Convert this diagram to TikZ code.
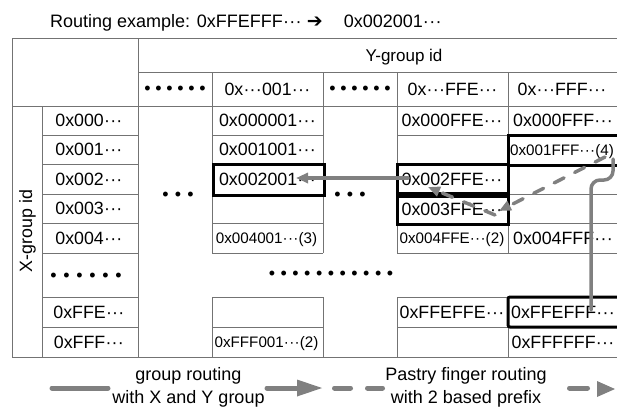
\documentclass[tikz,border=0pt]{standalone}
\usepackage{fontspec}
\setmainfont{Liberation Sans}
\newfontfamily\dvfont{DejaVu Sans}
\usetikzlibrary{arrows.meta}
\newcommand\dd{\makebox[1.05em]{\makebox[0.35em]{·}\makebox[0.35em]{·}\makebox[0.35em]{·}}}
\newcommand\bu[1]{\makebox[#1]{•}}
\definecolor{routegray}{RGB}{128,128,128}
\tikzset{
  grid/.style={draw=black!55, line width=0.9pt},
  big/.style={font=\fontsize{17.8}{20}\selectfont, inner sep=0pt, text height=12.7pt, text depth=0pt},
  small/.style={font=\fontsize{15.2}{17}\selectfont, inner sep=0pt, text height=10.9pt, text depth=0pt},
  bul/.style={font=\fontsize{18}{20}\selectfont, inner sep=0pt, anchor=base},
  leg/.style={font=\fontsize{18}{23}\selectfont, inner sep=0pt, align=center, anchor=base},
  hl/.style={draw=black, line width=3pt},
  route/.style={draw=routegray, line width=3.5pt, line cap=round, line join=round},
  pastry/.style={route, dash pattern=on 11pt off 12pt},
  tip/.style={-{Triangle[length=12pt,width=10pt]}},
  legline/.style={draw=routegray, line width=5pt, line cap=round},
}
\begin{document}
\begin{tikzpicture}[x=1pt,y=-1pt]
\useasboundingbox (0,0) rectangle (617,407);
\clip (0,0) rectangle (617,407);
% ---------- grid ----------
\draw[grid] (12,38) -- (690,38);
\draw[grid] (12,357) -- (690,357);
\draw[grid] (12,38) -- (12,357);
\draw[grid] (42,106) -- (42,357);
\draw[grid] (138,38) -- (138,357);
\draw[grid] (138,72) -- (690,72);
\draw[grid] (12,106) -- (690,106);
\foreach \x in {212,323,397,508} {
  \draw[grid] (\x,72) -- (\x,253);
  \draw[grid] (\x,297) -- (\x,357);
}
\foreach \y in {135,164,194,223,253,297,327} {
  \draw[grid] (42,\y) -- (138,\y);
  \draw[grid] (212,\y) -- (323,\y);
  \draw[grid] (397,\y) -- (690,\y);
}
% ---------- highlighted cells ----------
\draw[hl] (213,164) rectangle (324,195);
\draw[hl] (397,164) rectangle (508,193);
\draw[hl] (397,196) rectangle (508,224);
\draw[hl] (508,135) rectangle (632,165);
\draw[hl, rounded corners=2pt] (508,297) rectangle (632,327);
% ---------- title ----------
\node[font=\fontsize{18}{20}\selectfont, inner sep=0pt, anchor=base west] (title) at (50,27.5)
  {Routing example: 0xFFEFFF\dd\hspace{5pt}{\dvfont\fontsize{19}{20}\selectfont ➔}\hspace{21pt}0x002001\dd};
% ---------- headers ----------
\node[font=\fontsize{17}{20}\selectfont, inner sep=0pt, anchor=base] (ygroup) at (404,61.5) {Y-group id};
\node[font=\fontsize{17.8}{20}\selectfont, inner sep=0pt, anchor=base, rotate=90] (xgroup) at (32,231) {X-group id};
\node[bul] (hd1) at (175,94.3) {\bu{11pt}\bu{11pt}\bu{11pt}\bu{11pt}\bu{11pt}\bu{11pt}};
\node[big] (hc1) at (267.5,89) {0x\dd001\dd};
\node[bul] (hd2) at (360,94.3) {\bu{11pt}\bu{11pt}\bu{11pt}\bu{11pt}\bu{11pt}\bu{11pt}};
\node[big] (hc2) at (452.5,89) {0x\dd FFE\dd};
\node[big] (hc3) at (562,89) {0x\dd FFF\dd};
% ---------- row labels ----------
\node[big] (rl1) at (89,120.5) {0x000\dd};
\node[big] (rl2) at (89,149.5) {0x001\dd};
\node[big] (rl3) at (89,179) {0x002\dd};
\node[big] (rl4) at (89,208.5) {0x003\dd};
\node[big] (rl5) at (89,238) {0x004\dd};
\node[bul] (rl6) at (86,281) {\bu{13pt}\bu{13pt}\bu{13pt}\bu{13pt}\bu{13pt}\bu{13pt}};
\node[big] (rl7) at (89,312) {0xFFE\dd};
\node[big] (rl8) at (89,342) {0xFFF\dd};
% ---------- dots in collapsed columns / row ----------
\node[bul] (md1) at (178,200.3) {\bu{12.5pt}\bu{12.5pt}\bu{12.5pt}};
\node[bul] (md2) at (350,200.3) {\bu{12.5pt}\bu{12.5pt}\bu{12.5pt}};
\node[bul] (md3) at (331,279.3) {\bu{11.8pt}\bu{11.8pt}\bu{11.8pt}\bu{11.8pt}\bu{11.8pt}\bu{11.8pt}\bu{11.8pt}\bu{11.8pt}\bu{11.8pt}\bu{11.8pt}\bu{11.8pt}};
% ---------- cells: column 0x...001... ----------
\node[big] (a1) at (267.5,120.5) {0x000001\dd};
\node[big] (a2) at (267.5,149.5) {0x001001\dd};
\node[big] (a3) at (267.5,179) {0x002001\dd};
\node[small] (a5) at (266.5,238) {0x004001\dd(3)};
\node[small] (a8) at (266.5,342) {0xFFF001\dd(2)};
% ---------- cells: column 0x...FFE... ----------
\node[big] (b1) at (452,120.5) {0x000FFE\dd};
\node[big] (b3) at (452,179) {0x002FFE\dd};
\node[big] (b4) at (452,209.5) {0x003FFE\dd};
\node[small] (b5) at (452,238) {0x004FFE\dd(2)};
\node[big] (b7) at (452,312) {0xFFEFFE\dd};
% ---------- cells: column 0x...FFF... ----------
\node[big] (c1) at (563,120.5) {0x000FFF\dd};
\node[small] (c2) at (562,150) {0x001FFF\dd(4)};
\node[big] (c5) at (563,238) {0x004FFF\dd};
\node[big] (c7) at (563,312) {0xFFEFFF\dd};
\node[big] (c8) at (563,342) {0xFFFFFF\dd};
% ---------- routes ----------
\coordinate (s0) at (591,310);
\coordinate (s1) at (591,180);
\coordinate (s2) at (613,180);
\coordinate (s3) at (613,159);
\coordinate (p0) at (605,157);
\coordinate (p1) at (499,211);
\coordinate (q0) at (495,215);
\coordinate (q1) at (428,187);
\coordinate (g0) at (408,178);
\coordinate (g1) at (296,178);
\draw[route, rounded corners=9pt] (s0) -- (s1) -- (s2) -- (s3);
\draw[pastry, tip] (p0) -- (p1);
\draw[pastry, tip] (q0) -- (q1);
\draw[route, tip] (g0) -- (g1);
% ---------- legend ----------
\coordinate (la0) at (52,388);
\coordinate (la1) at (108,388);
\coordinate (lb0) at (267,388);
\coordinate (lb1) at (300,388);
\draw[legline] (la0) -- (la1);
\draw[legline] (lb0) -- (lb1);
\fill[routegray] (297,379.5) -- (322,388) -- (297,396.5) -- cycle;
\node[leg] (lt1) at (188.5,403) {group routing\\with X and Y group};
\coordinate (lc0) at (334.5,388);
\coordinate (lc1) at (350.5,388);
\coordinate (lc2) at (367.5,388);
\coordinate (lc3) at (382.5,388);
\draw[legline] (lc0) -- (lc1);
\draw[legline] (lc2) -- (lc3);
\node[leg] (lt2) at (466,403.5) {Pastry finger routing\\with 2 based prefix};
\coordinate (ld0) at (569.5,388);
\coordinate (ld1) at (587.5,388);
\draw[legline] (ld0) -- (ld1);
\fill[routegray] (597,381) -- (615,389) -- (597,397) -- cycle;
\end{tikzpicture}
\end{document}
